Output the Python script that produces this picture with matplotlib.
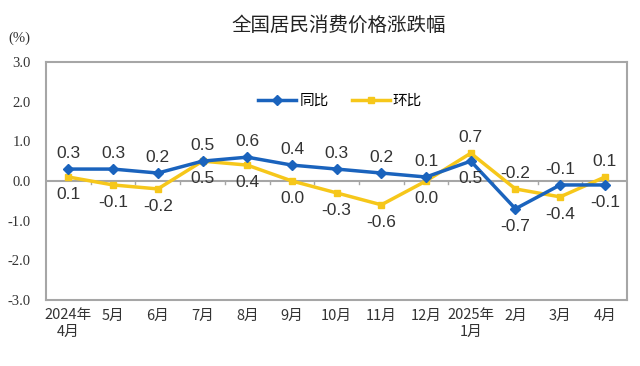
import matplotlib
matplotlib.use("Agg")
import matplotlib.pyplot as plt
import numpy as np

plt.rcParams['font.family'] = ['Noto Sans CJK SC', 'DejaVu Sans']

months = ["2024年\n4月", "5月", "6月", "7月", "8月", "9月", "10月", "11月",
          "12月", "2025年\n1月", "2月", "3月", "4月"]
yoy = [0.3, 0.3, 0.2, 0.5, 0.6, 0.4, 0.3, 0.2, 0.1, 0.5, -0.7, -0.1, -0.1]   # 同比
mom = [0.1, -0.1, -0.2, 0.5, 0.4, 0.0, -0.3, -0.6, 0.0, 0.7, -0.2, -0.4, 0.1]  # 环比
yticks = [3.0, 2.0, 1.0, 0.0, -1.0, -2.0, -3.0]

BLUE = "#1a63bd"
YELLOW = "#f6c71a"
GREY = "#a6a6a6"

fig = plt.figure(figsize=(6.4, 3.66), dpi=100)
ax = fig.add_axes([0.072, 0.18, 0.908, 0.651])
x = np.arange(len(months))

# zero line with small category ticks
ax.axhline(0, color=GREY, lw=1.5, zorder=1)
for b in x[1:] - 0.5:
    ax.plot([b, b], [0, -0.08], color=GREY, lw=1.0, zorder=1)

ax.plot(x, yoy, color=BLUE, lw=2.5, marker="D", ms=5, label="同比", zorder=3)
ax.plot(x, mom, color=YELLOW, lw=2.5, marker="s", ms=5, label="环比", zorder=2)

# data labels: higher value of the pair goes above, the other below
lab_font = dict(family="Liberation Sans", fontsize=12.5, color="#333333")
for i in x:
    blue_up = yoy[i] >= mom[i]
    for v, up in ((yoy[i], blue_up), (mom[i], not blue_up)):
        ax.annotate(f"{v:.1f}", (i, v), xytext=(0, 6 if up else -7),
                    textcoords="offset points", ha="center",
                    va="bottom" if up else "top", **lab_font)

ax.set_xlim(-0.5, len(months) - 0.5)
ax.set_ylim(-3.0, 3.0)
ax.set_yticks(yticks)
ax.set_yticklabels([f"{t:.1f}" for t in yticks], family="Liberation Serif",
                   fontsize=10.5, color="#333333")
ax.set_xticks(x)
ax.set_xticklabels(months, fontsize=10.5, color="#333333", linespacing=1.2)
ax.tick_params(axis="y", length=0, pad=11)
ax.tick_params(axis="x", length=0, pad=6)
for s in ax.spines.values():
    s.set_color(GREY)
    s.set_linewidth(1.5)

ax.legend(loc="center", bbox_to_anchor=(0.506, 0.835), ncol=2, frameon=False,
          fontsize=10.5, handlelength=2.6, handletextpad=0.2, columnspacing=1.6)

fig.text(0.53, 0.93, "全国居民消费价格涨跌幅", ha="center", va="center",
         fontsize=14, color="#222222")
fig.text(0.03, 0.895, "(%)", ha="center", va="center", fontsize=10.5,
         family="Liberation Serif", color="#333333")

fig.savefig("out.png", dpi=100)
